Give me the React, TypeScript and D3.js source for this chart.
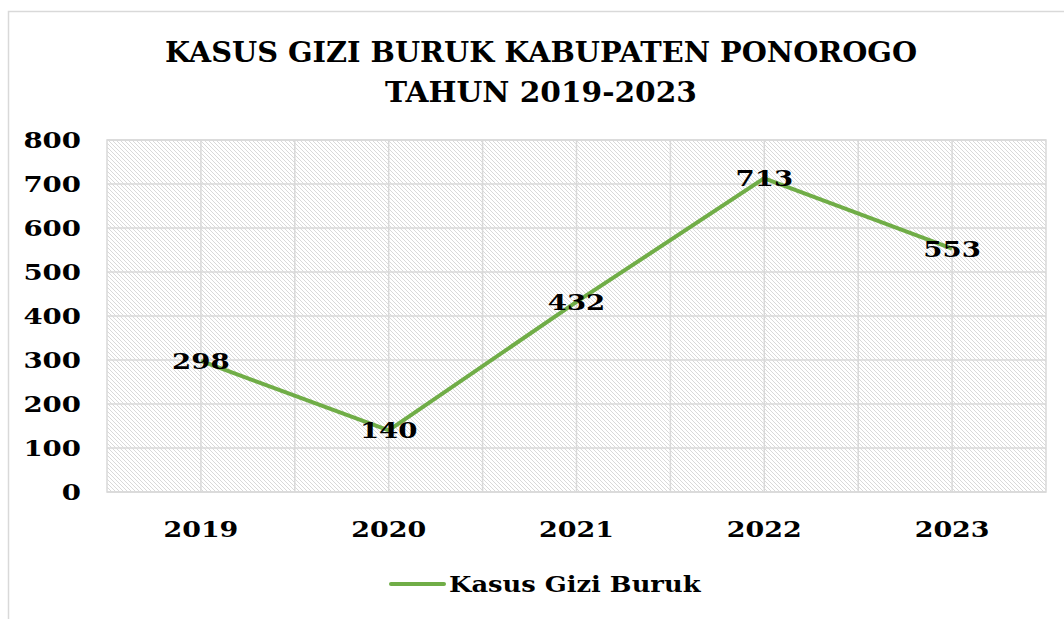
import React from "react";
import * as d3 from "d3";

const categories = ["2019", "2020", "2021", "2022", "2023"];
const values = [298, 140, 432, 713, 553];
const yTicks = [0, 100, 200, 300, 400, 500, 600, 700, 800];
const titleLines = ["KASUS GIZI BURUK KABUPATEN PONOROGO", "TAHUN 2019-2023"];
const seriesName = "Kasus Gizi Buruk";

const W = 1064;
const H = 619;
const FONT = "'DejaVu Serif', serif";
const GREEN = "#70AD47";

function T(props: { x: number; y: number; sx?: number; size?: number; anchor?: string; children: React.ReactNode }) {
  const { x, y, sx = 1.2, size = 23, anchor = "middle", children } = props;
  return (
    <text
      transform={`translate(${x},${y}) scale(${sx},1)`}
      textAnchor={anchor}
      fontFamily={FONT}
      fontWeight="bold"
      fontSize={size}
      fill="#000"
    >
      {children}
    </text>
  );
}

export default function App() {
  const left = 107, right = 1046, top = 140, bottom = 492;
  const x = d3.scaleBand<string>().domain(categories).range([left, right]).padding(0);
  const y = d3.scaleLinear().domain([0, 800]).range([bottom, top]);
  const cx = (c: string) => (x(c) as number) + x.bandwidth() / 2;
  const line = d3.line<number>().x((_, i) => cx(categories[i])).y((d) => y(d));

  const vLines: number[] = [];
  for (let k = 1; k < categories.length * 2; k++) vLines.push(left + (k * x.bandwidth()) / 2);

  return (
    <svg width={W} height={H} style={{ position: "absolute", left: 0, top: 0 }}>
      <defs>
        <pattern id="hatch" width="4" height="4" patternUnits="userSpaceOnUse">
          <rect width="4" height="4" fill="#ffffff" />
          <path d="M-1,-1 L5,5 M-1,3 L1,5 M3,-1 L5,1" stroke="#d9d9d9" strokeWidth="1" />
        </pattern>
      </defs>
      <rect x={0} y={0} width={W} height={H} fill="#fff" />
      <path d={`M8.5,${H} L8.5,11.5 L${W},11.5`} fill="none" stroke="#d9d9d9" strokeWidth={1.5} />
      {titleLines.map((t, i) => (
        <text
          key={i}
          x={541}
          y={62 + i * 40}
          textAnchor="middle"
          fontFamily={FONT}
          fontWeight="bold"
          fontSize={27}
          fill="#000"
          textLength={i === 0 ? 752 : 312}
          lengthAdjust="spacingAndGlyphs"
        >
          {t}
        </text>
      ))}
      <rect x={left} y={top} width={right - left} height={bottom - top} fill="url(#hatch)" />
      {yTicks.map((t) => (
        <line key={t} x1={left} x2={right} y1={y(t)} y2={y(t)} stroke="#d9d9d9" strokeWidth={1.5} />
      ))}
      {vLines.map((v, i) => (
        <line key={i} x1={v} x2={v} y1={top} y2={bottom} stroke="#d9d9d9" strokeWidth={1.5} />
      ))}
      <rect x={left} y={top} width={right - left} height={bottom - top} fill="none" stroke="#d9d9d9" strokeWidth={1.5} />
      {yTicks.map((t) => (
        <T key={t} x={81} y={y(t) + 8} anchor="end">
          {t}
        </T>
      ))}
      {categories.map((c) => (
        <T key={c} x={cx(c)} y={537} sx={1.17}>
          {c}
        </T>
      ))}
      <path d={line(values) as string} fill="none" stroke={GREEN} strokeWidth={4} strokeLinejoin="round" />
      {values.map((v, i) => (
        <T key={i} x={cx(categories[i])} y={y(v) + 8} sx={1.2}>
          {v}
        </T>
      ))}
      <line x1={391} x2={444} y1={584} y2={584} stroke={GREEN} strokeWidth={4} strokeLinecap="round" />
      <T x={449} y={592} anchor="start" sx={1.12}>
        {seriesName}
      </T>
    </svg>
  );
}
